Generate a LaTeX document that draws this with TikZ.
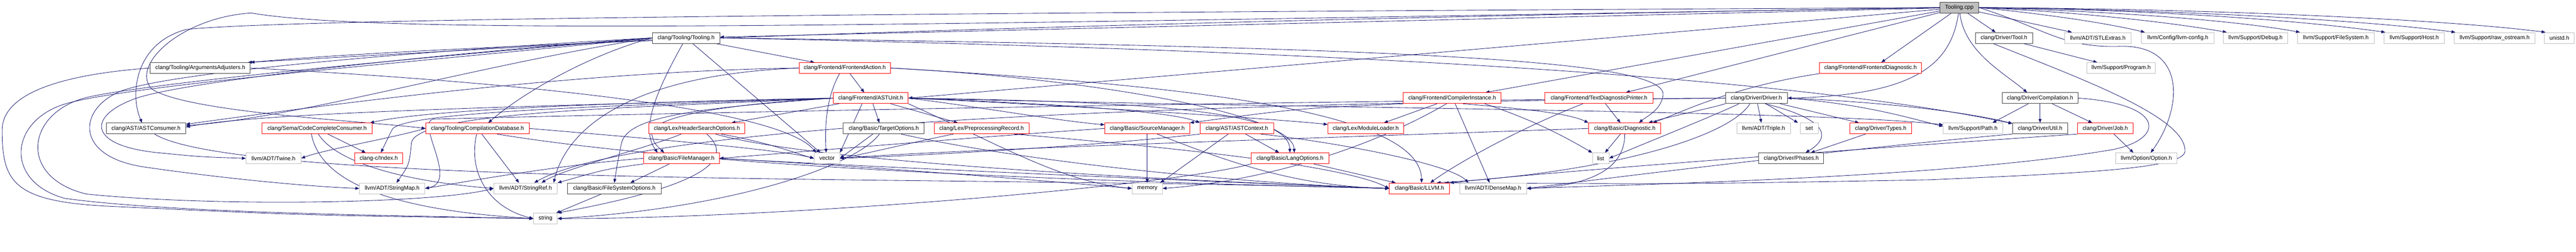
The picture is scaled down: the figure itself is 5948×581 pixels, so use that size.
\documentclass[tikz,border=0pt]{standalone}
\usepackage{fontspec}
\setmainfont{Liberation Sans}
\usetikzlibrary{arrows.meta}
\pgfdeclarelayer{bg}
\pgfsetlayers{bg,main}
\definecolor{edgec}{HTML}{191970}
\definecolor{grayb}{HTML}{BFBFBF}
\definecolor{darkb}{HTML}{404040}
\begin{document}
\begin{tikzpicture}[x=1pt,y=-1pt,
  nd/.style={draw, fill=white, line width=1pt, minimum height=25pt, inner sep=0pt, font=\fontsize{13}{15}\selectfont},
  bk/.style={nd, draw=darkb},
  rd/.style={nd, draw=red},
  gy/.style={nd, draw=grayb},
  rootnd/.style={nd, draw=darkb, fill=grayb},
  lnk/.style={draw=edgec, line width=1pt, -{Triangle[length=9pt,width=7pt]}}]
\useasboundingbox (0,0) rectangle (5948,581);
% row 1
\node[rootnd, minimum width=90pt] (nCpp) at (4524,17.5) {Tooling.cpp};
% row 2
\node[bk, minimum width=156pt] (nToolingH) at (1584,87.5) {clang/Tooling/Tooling.h};
\node[bk, minimum width=132pt] (nToolH) at (4627,87.5) {clang/Driver/Tool.h};
\node[gy, minimum width=154pt] (nSTL) at (4844,87.5) {llvm/ADT/STLExtras.h};
\node[gy, minimum width=167pt] (nLLVMConfig) at (5028.5,87.5) {llvm/Config/llvm-config.h};
\node[gy, minimum width=148pt] (nDebug) at (5208,87.5) {llvm/Support/Debug.h};
\node[gy, minimum width=177pt] (nFileSystem) at (5393.5,87.5) {llvm/Support/FileSystem.h};
\node[gy, minimum width=139pt] (nHost) at (5574.5,87.5) {llvm/Support/Host.h};
\node[gy, minimum width=186pt] (nRawOstream) at (5760,87.5) {llvm/Support/raw\_ostream.h};
\node[gy, minimum width=69pt] (nUnistd) at (5909.5,87.5) {unistd.h};
% row 3
\node[bk, minimum width=231pt] (nArgAdj) at (462.5,157) {clang/Tooling/ArgumentsAdjusters.h};
\node[rd, minimum width=211pt] (nFrontAction) at (1950.5,157) {clang/Frontend/FrontendAction.h};
\node[rd, minimum width=236pt] (nFrontDiag) at (4319,157) {clang/Frontend/FrontendDiagnostic.h};
\node[gy, minimum width=159pt] (nProgram) at (4897.5,157) {llvm/Support/Program.h};
% row 4
\node[rd, minimum width=173pt] (nASTUnit) at (2010.5,226.5) {clang/Frontend/ASTUnit.h};
\node[rd, minimum width=226pt] (nCompInst) at (3353,226.5) {clang/Frontend/CompilerInstance.h};
\node[rd, minimum width=250pt] (nTextDiag) at (3692,226.5) {clang/Frontend/TextDiagnosticPrinter.h};
\node[bk, minimum width=143pt] (nDriver) at (4055.5,226.5) {clang/Driver/Driver.h};
\node[bk, minimum width=175pt] (nCompilation) at (4710.5,226.5) {clang/Driver/Compilation.h};
% row 5
\node[bk, minimum width=184pt] (nASTConsumer) at (337,296.5) {clang/AST/ASTConsumer.h};
\node[rd, minimum width=254pt] (nCodeComplete) at (732,296.5) {clang/Sema/CodeCompleteConsumer.h};
\node[rd, minimum width=239pt] (nCompDB) at (1102.5,296.5) {clang/Tooling/CompilationDatabase.h};
\node[rd, minimum width=222pt] (nHeaderSearch) at (1609,296.5) {clang/Lex/HeaderSearchOptions.h};
\node[bk, minimum width=187pt] (nTargetOpts) at (2040.5,296.5) {clang/Basic/TargetOptions.h};
\node[rd, minimum width=219pt] (nPPRecord) at (2266.5,296.5) {clang/Lex/PreprocessingRecord.h};
\node[rd, minimum width=196pt] (nSrcMgr) at (2649,296.5) {clang/Basic/SourceManager.h};
\node[rd, minimum width=170pt] (nASTContext) at (2856,296.5) {clang/AST/ASTContext.h};
\node[rd, minimum width=175pt] (nModLoader) at (3153.5,296.5) {clang/Lex/ModuleLoader.h};
\node[rd, minimum width=167pt] (nDiagnostic) at (3751.5,296.5) {clang/Basic/Diagnostic.h};
\node[gy, minimum width=124pt] (nTriple) at (4072,296.5) {llvm/ADT/Triple.h};
\node[gy, minimum width=41pt] (nSet) at (4177.5,296.5) {set};
\node[rd, minimum width=143pt] (nTypes) at (4342.5,296.5) {clang/Driver/Types.h};
\node[gy, minimum width=137pt] (nPath) at (4555.5,296.5) {llvm/Support/Path.h};
\node[bk, minimum width=127pt] (nUtil) at (4710.5,296.5) {clang/Driver/Util.h};
\node[rd, minimum width=128pt] (nJob) at (4861,296.5) {clang/Driver/Job.h};
% row 6
\node[gy, minimum width=127pt] (nTwine) at (631.5,365.5) {llvm/ADT/Twine.h};
\node[rd, minimum width=111pt] (nIndex) at (874.5,365.5) {clang-c/Index.h};
\node[rd, minimum width=175pt] (nFileMgr) at (1573.5,365.5) {clang/Basic/FileManager.h};
\node[gy, minimum width=59pt] (nVector) at (1909.5,365.5) {vector};
\node[rd, minimum width=179pt] (nLangOpts) at (2978.5,365.5) {clang/Basic/LangOptions.h};
\node[gy, minimum width=38pt] (nList) at (3696,365.5) {list};
\node[bk, minimum width=150pt] (nPhases) at (4136,365.5) {clang/Driver/Phases.h};
\node[gy, minimum width=142pt] (nOption) at (4956,365.5) {llvm/Option/Option.h};
% row 7
\node[gy, minimum width=151pt] (nStringMap) at (905.5,435) {llvm/ADT/StringMap.h};
\node[gy, minimum width=147pt] (nStringRef) at (1213.5,435) {llvm/ADT/StringRef.h};
\node[bk, minimum width=217pt] (nFSOpts) at (1418.5,435) {clang/Basic/FileSystemOptions.h};
\node[gy, minimum width=70pt] (nMemory) at (2649,435) {memory};
\node[rd, minimum width=139pt] (nLLVMH) at (3277.5,435) {clang/Basic/LLVM.h};
\node[gy, minimum width=155pt] (nDenseMap) at (3447.5,435) {llvm/ADT/DenseMap.h};
% row 8
\node[gy, minimum width=55pt] (nString) at (1259.5,504.5) {string};

\begin{pgfonlayer}{bg}
% Tooling.cpp
\draw[lnk] (nCpp) -- (nToolingH);
\draw[lnk] (nCpp.west) .. controls (3000,40) and (1100,95) .. (nArgAdj.north east);
\draw[lnk] (nCpp.west) .. controls (2500,28) and (700,40) .. (430,68) .. controls (310,100) and (300,220) .. ([xshift=-9pt]nASTConsumer.north);
\draw[lnk] (nCpp.west) .. controls (2200,55) and (900,85) .. (580,30) .. controls (420,40) and (300,150) .. (350,205) .. controls (430,260) and (850,280) .. (nCompDB.west);
\draw[lnk] (nCpp) .. controls (4535,120) and (4630,170) .. ([xshift=-30pt]nCompilation.north);
\draw[lnk] (nCpp) .. controls (4505,150) and (4420,220) .. (nDriver.east);
\draw[lnk] (nCpp) -- (nToolH);
\draw[lnk] (nCpp) -- ([xshift=-60pt]nSTL.north);
\draw[lnk] (nCpp.east) .. controls (4700,30) and (4850,50) .. ([xshift=8pt]nLLVMConfig.north west);
\draw[lnk] (nCpp.east) .. controls (4800,28) and (5000,50) .. ([xshift=8pt]nDebug.north west);
\draw[lnk] (nCpp.east) .. controls (4850,25) and (5150,45) .. ([xshift=6pt]nFileSystem.north west);
\draw[lnk] (nCpp.east) .. controls (4950,22) and (5300,45) .. ([xshift=3pt]nHost.north west);
\draw[lnk] (nCpp.east) .. controls (5000,22) and (5450,45) .. ([xshift=3pt]nRawOstream.north west);
\draw[lnk] (nCpp.east) .. controls (5100,20) and (5650,45) .. ([xshift=3pt]nUnistd.north west);
\draw[lnk] (nCpp.east) .. controls (4720,65) and (4760,110) .. (4890,107) .. controls (5050,100) and (5040,250) .. ([xshift=10pt]nOption.north);
\draw[lnk] (nCpp) -- ([xshift=25pt]nFrontDiag.north);
\draw[lnk] (nCpp) -- ([xshift=62pt]nTextDiag.north);
\draw[lnk] (nCpp) -- ([xshift=77pt]nCompInst.north);
\draw[lnk] (nCpp) -- (nASTUnit.east);
% Tooling.h
\draw[lnk] (nToolingH) -- ([xshift=-6pt]nArgAdj.north east);
\draw[lnk] (nToolingH) -- ([xshift=-70pt]nFrontAction.north);
\draw[lnk] (nToolingH.west) .. controls (1350,130) and (1200,220) .. ([xshift=25pt]nCompDB.north);
\draw[lnk] (nToolingH) -- ([xshift=-15pt]nVector.north);
\draw[lnk] (nToolingH) .. controls (1510,220) and (1480,300) .. ([xshift=-55pt]nFileMgr.north);
\draw[lnk] (nToolingH.east) .. controls (3300,110) and (3850,140) .. (3840,220) .. controls (3835,255) and (3800,270) .. ([xshift=33pt]nDiagnostic.north);
\draw[lnk] (nToolingH.east) .. controls (3000,115) and (4100,170) .. (nUtil.170);
\draw[lnk] (nToolingH.west) .. controls (1100,150) and (700,270) .. (nASTConsumer.4);
\draw[lnk] (nToolingH.west) .. controls (1000,125) and (450,185) .. (320,225) .. controls (200,265) and (200,335) .. (360,352) .. controls (460,362) .. (nTwine.west);
\draw[lnk] (nToolingH.west) .. controls (1000,115) and (400,165) .. (280,210) .. controls (180,250) and (170,360) .. (330,385) .. controls (500,410) and (700,430) .. (nStringMap.west);
\draw[lnk] (nToolingH.west) .. controls (1000,130) and (350,190) .. (200,225) .. controls (60,260) and (40,410) .. (200,448) .. controls (500,478) and (1000,470) .. (nStringRef.west);
\draw[lnk] (nToolingH.west) .. controls (1000,140) and (300,195) .. (150,240) .. controls (20,280) and (10,420) .. (150,458) .. controls (400,492) and (900,497) .. (nString.west);
% ArgumentsAdjusters.h
\draw[lnk] (nArgAdj.west) .. controls (100,175) and (5,230) .. (5,300) .. controls (5,420) and (30,465) .. (250,476) .. controls (700,497) .. (nString.west);
\draw[lnk] (nArgAdj.east) .. controls (1200,190) and (1800,250) .. ([xshift=-25pt]nVector.north);
% FrontendAction.h
\draw[lnk] ([xshift=12pt]nFrontAction.south) -- ([xshift=-15pt]nASTUnit.north);
\draw[lnk] ([xshift=-12pt]nFrontAction.south) .. controls (1905,230) and (1905,300) .. ([xshift=-2pt]nVector.north);
\draw[lnk] (nFrontAction.west) .. controls (1300,165) and (700,250) .. (nASTConsumer.6);
\draw[lnk] (nFrontAction.west) .. controls (1400,175) and (1300,330) .. ([xshift=65pt]nStringRef.north);
\draw[lnk] (nFrontAction.east) .. controls (2500,180) and (2985,260) .. ([xshift=10pt]nLangOpts.north);
\draw[lnk] (nFrontAction.east) .. controls (2700,195) and (3280,250) .. ([xshift=5pt]nLLVMH.north);
% ASTUnit.h
\draw[lnk] (nASTUnit) -- ([xshift=80pt]nHeaderSearch.north);
\draw[lnk] ([xshift=5pt]nASTUnit.south) -- ([xshift=-10pt]nTargetOpts.north);
\draw[lnk] (nASTUnit) -- ([xshift=-55pt]nPPRecord.north);
\draw[lnk] (nASTUnit.east) .. controls (2250,245) and (2450,280) .. (nSrcMgr.175);
\draw[lnk] (nASTUnit.east) .. controls (2400,238) and (2700,255) .. (nASTContext.north west);
\draw[lnk] (nASTUnit.east) .. controls (2500,245) and (2950,275) .. (nModLoader.174);
\draw[lnk] (nASTUnit.east) .. controls (2700,235) and (2975,260) .. (nLangOpts.north);
\draw[lnk] (nASTUnit.east) .. controls (3000,250) and (4200,255) .. (nPath.173);
\draw[lnk] (nASTUnit.west) .. controls (1500,235) and (1000,250) .. ([xshift=-5pt]nCodeComplete.north east);
\draw[lnk] (nASTUnit.west) .. controls (1500,242) and (920,255) .. (905,300) .. controls (895,320) .. ([xshift=5pt]nIndex.north);
\draw[lnk] (nASTUnit.west) .. controls (1500,248) and (960,255) .. (950,330) .. controls (945,380) .. ([xshift=10pt]nStringMap.north);
\draw[lnk] (nASTUnit.west) .. controls (1600,250) and (1450,270) .. (1435,330) .. controls (1425,380) .. (nFSOpts.north);
\draw[lnk] (nASTUnit.west) .. controls (1600,245) and (1500,280) .. (1505,310) .. controls (1510,330) .. ([xshift=-40pt]nFileMgr.north);
\draw[lnk] ([xshift=-20pt]nASTUnit.south) -- (nVector.north east);
\draw[lnk] (nASTUnit.west) .. controls (1200,245) and (600,260) .. (nASTConsumer.2);
\draw[lnk] (nASTUnit.south east) .. controls (2300,330) and (2450,420) .. (nMemory.west);
% CompilerInstance.h
\draw[lnk] ([xshift=-35pt]nCompInst.south) -- ([xshift=42pt]nModLoader.north);
\draw[lnk] ([xshift=7pt]nCompInst.south) -- ([xshift=-8pt]nDenseMap.north);
\draw[lnk] (nCompInst.south west) .. controls (3000,250) .. (nSrcMgr.north east);
\draw[lnk] ([xshift=25pt]nCompInst.south) .. controls (3500,250) and (3620,260) .. (nDiagnostic.north west);
\draw[lnk] ([xshift=75pt]nCompInst.south) .. controls (3550,280) and (3620,320) .. (nList.north west);
\draw[lnk] ([xshift=-13pt]nCompInst.south) .. controls (3150,350) and (2900,420) .. (nMemory.east);
% TextDiagnosticPrinter.h
\draw[lnk] ([xshift=15pt]nTextDiag.south) -- ([xshift=-10pt]nDiagnostic.north);
\draw[lnk] ([xshift=-37pt]nTextDiag.south) .. controls (3500,300) and (3360,380) .. ([xshift=25pt]nLLVMH.north);
% FrontendDiagnostic.h
\draw[lnk] (nFrontDiag.south west) .. controls (4000,200) and (3880,260) .. ([xshift=65pt]nDiagnostic.north);
% Driver.h
\draw[lnk] (nDriver) -- ([xshift=-5pt]nTriple.north);
\draw[lnk] ([xshift=22pt]nDriver.south) -- ([xshift=-5pt]nSet.north west);
\draw[lnk] ([xshift=55pt]nDriver.south) -- ([xshift=-50pt]nTypes.north);
\draw[lnk] ([xshift=20pt]nDriver.south) .. controls (4200,270) and (4240,310) .. ([xshift=33pt]nPhases.north);
\draw[lnk] (nDriver.east) .. controls (4300,240) and (4400,270) .. (nPath.176);
\draw[lnk] (nDriver.east) .. controls (4350,235) and (4550,260) .. (nUtil.170);
\draw[lnk] (nDriver.south west) .. controls (3950,250) and (3850,270) .. ([xshift=55pt]nDiagnostic.north);
\draw[lnk] ([xshift=-40pt]nDriver.south) .. controls (3950,270) and (3800,330) .. (nList.east);
\draw[lnk] ([xshift=-15pt]nDriver.south) .. controls (3990,320) and (3700,400) .. ([xshift=40pt]nLLVMH.north);
\draw[lnk] (nDriver.west) .. controls (3000,232) and (1500,262) .. (1000,275) .. controls (960,285) and (1060,420) .. (nStringMap.east);
\draw[lnk] (nDriver.west) .. controls (3000,236) and (1500,270) .. ([xshift=20pt]nStringRef.north);
% Types.h
\draw[lnk] ([xshift=-35pt]nTypes.south) -- ([xshift=45pt]nPhases.north);
% Compilation.h
\draw[lnk] ([xshift=-27pt]nCompilation.south) -- ([xshift=45pt]nPath.north);
\draw[lnk] (nCompilation) -- (nUtil);
\draw[lnk] ([xshift=28pt]nCompilation.south) -- ([xshift=-30pt]nJob.north);
\draw[lnk] (nCompilation.east) .. controls (5000,240) and (5000,320) .. (4880,345) .. controls (4500,410) and (3800,425) .. (nDenseMap.east);
% Job.h
\draw[lnk] ([xshift=20pt]nJob.south) -- ([xshift=-30pt]nOption.north);
\draw[lnk] (nJob.south west) .. controls (4500,330) and (3700,385) .. (nLLVMH.north east);
% Util.h
\draw[lnk] (nUtil.south west) .. controls (4300,340) and (3800,400) .. (nDenseMap.east);
% Tool.h
\draw[lnk] ([xshift=45pt]nToolH.south) -- ([xshift=-55pt]nProgram.north);
\draw[lnk] ([xshift=-25pt]nToolH.south) .. controls (4800,180) and (5050,270) .. (5045,350) .. controls (5040,390) and (4800,400) .. (4455,415) .. controls (3900,425) .. ([xshift=58pt]nLLVMH.north);
% Diagnostic.h
\draw[lnk] ([xshift=-10pt]nDiagnostic.south) -- ([xshift=10pt]nList.north);
\draw[lnk] (nDiagnostic.south) .. controls (3752,400) and (3650,430) .. (nDenseMap.east);
\draw[lnk] (nDiagnostic.west) .. controls (3000,320) and (2200,345) .. (nVector.east);
% LangOptions.h
\draw[lnk] ([xshift=55pt]nLangOpts.south) -- ([xshift=-55pt]nLLVMH.north);
\draw[lnk] (nLangOpts.south west) .. controls (2700,430) and (1800,505) .. (nString.east);
% ASTContext.h
\draw[lnk] ([xshift=-20pt]nASTContext.south) -- ([xshift=30pt]nMemory.north);
\draw[lnk] ([xshift=20pt]nASTContext.south) -- ([xshift=-25pt]nLangOpts.north);
\draw[lnk] ([xshift=55pt]nASTContext.south) .. controls (3100,330) and (3350,380) .. ([xshift=-57pt]nDenseMap.north);
\draw[lnk] (nASTContext.south west) .. controls (2500,340) and (2100,360) .. (nVector.east);
% SourceManager.h
\draw[lnk] (nSrcMgr) -- (nMemory);
\draw[lnk] ([xshift=23pt]nSrcMgr.south) .. controls (2850,380) and (3000,430) .. (nLLVMH.west);
\draw[lnk] (nSrcMgr.west) .. controls (2200,320) and (1800,355) .. (nFileMgr.east);
% PreprocessingRecord.h
\draw[lnk] ([xshift=-65pt]nPPRecord.south) .. controls (2100,330) and (2000,355) .. (nVector.east);
\draw[lnk] ([xshift=75pt]nPPRecord.south) .. controls (2700,340) and (3100,380) .. (nLLVMH.west);
% TargetOptions.h
\draw[lnk] ([xshift=-25pt]nTargetOpts.south) -- (nVector.east);
\draw[lnk] ([xshift=-10pt]nTargetOpts.south) .. controls (1980,380) and (1700,480) .. (nString.east);
\draw[lnk] ([xshift=40pt]nTargetOpts.south) .. controls (2400,380) and (2900,425) .. (nLLVMH.west);
% HeaderSearchOptions.h
\draw[lnk] ([xshift=-36pt]nHeaderSearch.south) .. controls (1500,340) and (1300,390) .. ([xshift=37pt]nStringRef.north);
\draw[lnk] ([xshift=23pt]nHeaderSearch.south) .. controls (1700,370) and (1620,430) .. (nString.north east);
\draw[lnk] ([xshift=43pt]nHeaderSearch.south) .. controls (1900,380) and (2800,420) .. (nLLVMH.west);
\draw[lnk] ([xshift=56pt]nHeaderSearch.south) .. controls (1780,330) and (1840,355) .. (nVector.west);
% FileManager.h
\draw[lnk] ([xshift=-28pt]nFileMgr.south) -- ([xshift=37pt]nFSOpts.north);
\draw[lnk] (nFileMgr.east) .. controls (2000,385) and (2800,420) .. (nLLVMH.west);
\draw[lnk] (nFileMgr.east) .. controls (2100,390) and (2500,425) .. (nMemory.west);
\draw[lnk] (nFileMgr.south west) .. controls (1400,390) .. (nStringRef.north east);
\draw[lnk] (nFileMgr.west) .. controls (1300,380) and (1100,415) .. (nStringMap.east);
% FileSystemOptions.h
\draw[lnk] ([xshift=-30pt]nFSOpts.south) -- ([xshift=25pt]nString.north);
% CompilationDatabase.h
\draw[lnk] ([xshift=10pt]nCompDB.south) -- ([xshift=-15pt]nStringRef.north);
\draw[lnk] ([xshift=-2pt]nCompDB.south) .. controls (1080,400) and (1130,480) .. (nString.west);
\draw[lnk] (nCompDB.west) .. controls (900,320) and (750,345) .. (nTwine.east);
\draw[lnk] (nCompDB.east) .. controls (1500,320) and (1800,345) .. (nVector.west);
\draw[lnk] ([xshift=45pt]nCompDB.south) .. controls (1700,400) and (2800,425) .. (nLLVMH.west);
% CodeCompleteConsumer.h
\draw[lnk] ([xshift=25pt]nCodeComplete.south) -- ([xshift=-30pt]nIndex.north);
\draw[lnk] ([xshift=3pt]nCodeComplete.south) .. controls (780,380) and (950,420) .. (nStringRef.west);
\draw[lnk] ([xshift=-13pt]nCodeComplete.south) .. controls (740,420) and (900,485) .. (nString.west);
% ASTConsumer.h
\draw[lnk] ([xshift=20pt]nASTConsumer.south) .. controls (500,400) and (1500,410) .. (2200,418) .. controls (2800,425) .. (nLLVMH.west);
\end{pgfonlayer}
\end{tikzpicture}
\end{document}
